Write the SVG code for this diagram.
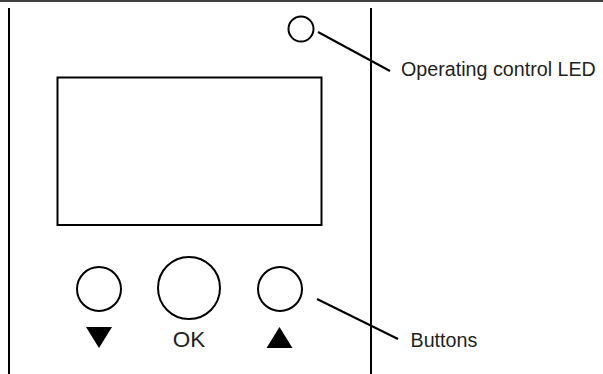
<svg xmlns="http://www.w3.org/2000/svg" width="603" height="374" viewBox="0 0 603 374">
<style>
.s{fill:none;stroke:#000;stroke-width:2}
.t{font-family:"Liberation Sans",Arial,sans-serif;font-size:19.7px;fill:#231f20}
.ok{font-size:22.5px}
.f{fill:#000;stroke:none}
</style>
<rect width="603" height="374" fill="#fff"/>
<g id="housing">
<line class="s" x1="0" y1="1" x2="603" y2="1" style="stroke-width:1.5"/>
<line class="s" x1="9" y1="8" x2="9" y2="374"/>
<line class="s" x1="371" y1="8" x2="371" y2="374"/>
</g>
<g id="led"><circle class="s" cx="301" cy="29" r="12.5"/></g>
<g id="display"><rect class="s" x="57.5" y="77.5" width="264" height="147.5"/></g>
<g id="btn-down"><circle class="s" cx="99" cy="289" r="22"/><polygon class="f" points="86,327 112,327 99,348"/></g>
<g id="btn-ok"><circle class="s" cx="189" cy="288" r="31"/><text class="t ok" x="189" y="347" text-anchor="middle">OK</text></g>
<g id="btn-up"><circle class="s" cx="280" cy="289" r="22"/><polygon class="f" points="279.5,327 292.5,348 266.5,348"/></g>
<g id="connectors">
<line class="s" x1="318" y1="32" x2="390" y2="71"/>
<line class="s" x1="317" y1="299" x2="398" y2="339"/>
</g>
<g id="labels">
<text class="t" x="401" y="76">Operating control LED</text>
<text class="t" x="410.5" y="347">Buttons</text>
</g>
</svg>
